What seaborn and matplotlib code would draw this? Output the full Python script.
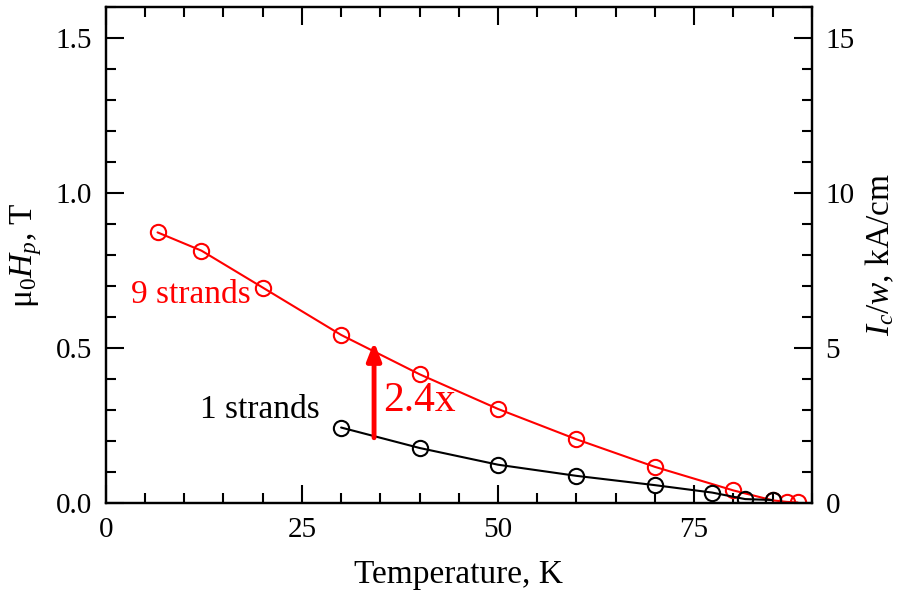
import pandas as pd
import seaborn as sns
import matplotlib.pyplot as plt
from matplotlib.ticker import MultipleLocator

# temperature (K) and penetration field (T)
t_9 = [6.6, 12.2, 20, 30, 40, 50, 60, 70, 80, 85, 86.8, 88.2]
h_9 = [0.873, 0.814, 0.695, 0.542, 0.415, 0.303, 0.205, 0.116, 0.04, 0.008, 0.003, 0.001]
t_1 = [30, 40, 50, 60, 70, 77.3, 81.5, 85]
h_1 = [0.243, 0.177, 0.123, 0.087, 0.057, 0.033, 0.012, 0.009]

x_ticks = [0, 25, 50, 75]
y_ticks = [0.0, 0.5, 1.0, 1.5]
y2_ticks = [0, 5, 10, 15]

df_9 = pd.DataFrame({"T": t_9, "H": h_9})
df_1 = pd.DataFrame({"T": t_1, "H": h_1})

sns.set_theme(style="ticks")
plt.rcParams["font.family"] = ["Liberation Serif", "DejaVu Serif"]
plt.rcParams["mathtext.fontset"] = "custom"
plt.rcParams["mathtext.rm"] = "Liberation Serif"
plt.rcParams["mathtext.it"] = "Liberation Serif:italic"
for k in ["text.color", "axes.labelcolor", "xtick.color", "ytick.color", "axes.edgecolor"]:
    plt.rcParams[k] = "black"

fig = plt.figure(figsize=(9.04, 6.0), dpi=100)
ax = fig.add_axes([0.117, 0.162, 0.781, 0.826])

for df, col in [(df_9, "red"), (df_1, "black")]:
    sns.lineplot(data=df, x="T", y="H", ax=ax, color=col, linewidth=1.5,
                 marker="o", markersize=11, markerfacecolor="none",
                 markeredgecolor=col, markeredgewidth=1.5)

ax.set_xlim(0, 90)
ax.set_ylim(0, 1.6)
ax.set_xticks(x_ticks)
ax.set_yticks(y_ticks)
ax.set_yticklabels([f"{v:.1f}" for v in y_ticks])
ax.xaxis.set_minor_locator(MultipleLocator(5))
ax.yaxis.set_minor_locator(MultipleLocator(0.1))
ax.tick_params(which="both", direction="in", top=True, labelsize=21, width=1.5,
               colors="black", pad=10)
ax.tick_params(which="major", length=13)
ax.tick_params(which="minor", length=7)
for s in ax.spines.values():
    s.set_linewidth(1.6)

ax.set_xlabel("Temperature, K", fontsize=24, labelpad=12)
ax.set_ylabel("\u03bc$_0$$\\mathit{H_p}$, T", fontsize=24, labelpad=8)

ax2 = ax.twinx()
ax2.set_ylim(0, 16)
ax2.set_yticks(y2_ticks)
ax2.yaxis.set_minor_locator(MultipleLocator(1))
ax2.tick_params(which="both", direction="in", labelsize=21, width=1.5, pad=10,
                colors="black")
ax2.tick_params(which="major", length=13)
ax2.tick_params(which="minor", length=7)
ax2.set_ylabel(r"$I_c/w$, kA/cm", fontsize=24, labelpad=6)
for s in ax2.spines.values():
    s.set_linewidth(1.6)

ax.text(10.8, 0.672, "9 strands", color="red", fontsize=24, ha="center", va="center")
ax.text(19.6, 0.30, "1 strands", color="black", fontsize=24, ha="center", va="center")
ax.text(35.4, 0.33, "2.4x", color="red", fontsize=30, ha="left", va="center")
ax.annotate("", xy=(34.2, 0.52), xytext=(34.2, 0.21),
            arrowprops=dict(arrowstyle="-|>,head_length=0.9,head_width=0.35",
                            color="red", lw=3.5, shrinkA=0, shrinkB=0))

plt.savefig("out.png", dpi=100)
plt.close()
